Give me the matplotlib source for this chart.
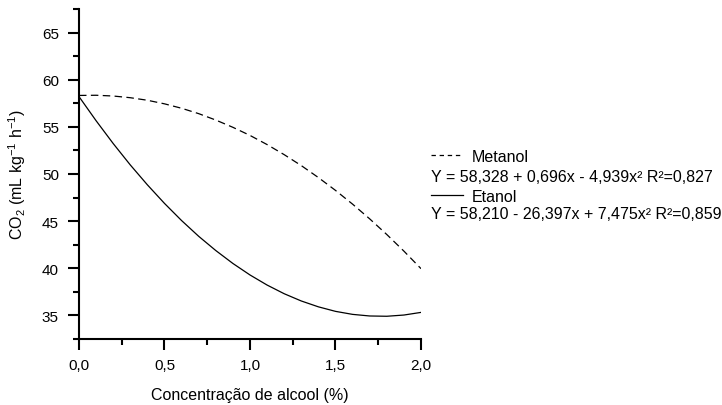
import matplotlib
matplotlib.use("Agg")
import matplotlib.pyplot as plt
from matplotlib.lines import Line2D
from matplotlib.ticker import FixedLocator, MultipleLocator, FixedFormatter

# Dados (curvas ajustadas)
conc = [0.0, 0.1, 0.2, 0.3, 0.4, 0.5, 0.6, 0.7, 0.8, 0.9, 1.0,
        1.1, 1.2, 1.3, 1.4, 1.5, 1.6, 1.7, 1.8, 1.9, 2.0]
metanol = [58.33, 58.35, 58.27, 58.09, 57.82, 57.44, 56.97, 56.40, 55.72, 54.95, 54.09,
           53.12, 52.05, 50.89, 49.62, 48.26, 46.80, 45.24, 43.58, 41.82, 39.96]
etanol = [58.21, 55.65, 53.23, 50.96, 48.85, 46.88, 45.06, 43.39, 41.88, 40.51, 39.29,
          38.22, 37.30, 36.53, 35.91, 35.43, 35.11, 34.94, 34.91, 35.04, 35.32]

xticks = [0.0, 0.5, 1.0, 1.5, 2.0]
xtick_labels = ["0,0", "0,5", "1,0", "1,5", "2,0"]
yticks = [35, 40, 45, 50, 55, 60, 65]

eq_metanol = "Y = 58,328 + 0,696x - 4,939x² R²=0,827"
eq_etanol = "Y = 58,210 - 26,397x + 7,475x² R²=0,859"

plt.rcParams["font.family"] = ["Liberation Sans", "DejaVu Sans"]
plt.rcParams["mathtext.fontset"] = "custom"
plt.rcParams["mathtext.rm"] = "Liberation Sans"
plt.rcParams["mathtext.it"] = "Liberation Sans:italic"

fig = plt.figure(figsize=(7.22, 4.06), dpi=100)
ax = fig.add_axes([0.1094, 0.1626, 0.4737, 0.8128])

ax.plot(conc, metanol, color="black", lw=0.9, linestyle=(0, (6, 3.5)))
ax.plot(conc, etanol, color="black", lw=0.9)

ax.set_xlim(0, 2)
ax.set_ylim(32.5, 67.5)
for s in ["top", "right"]:
    ax.spines[s].set_visible(False)
for s in ["left", "bottom"]:
    ax.spines[s].set_linewidth(1.5)

ax.xaxis.set_major_locator(FixedLocator(xticks))
ax.xaxis.set_major_formatter(FixedFormatter(xtick_labels))
ax.xaxis.set_minor_locator(MultipleLocator(0.25))
ax.yaxis.set_major_locator(FixedLocator(yticks))
ax.yaxis.set_minor_locator(MultipleLocator(2.5))
ax.tick_params(which="major", length=8, width=1.5, labelsize=11)
ax.tick_params(which="minor", length=4.5, width=1.5)
ax.tick_params(axis="x", which="major", pad=6)
ax.tick_params(axis="y", which="major", pad=6.5)

ax.set_xlabel("Concentração de alcool (%)", fontsize=11.5)
ax.set_ylabel(r"CO$_\mathregular{2}$ (mL kg$^\mathregular{-1}$ h$^\mathregular{-1}$)", fontsize=11.5)
ax.xaxis.set_label_coords(0.5, -0.145)
ax.yaxis.set_label_coords(-0.149, 0.5)

# legenda com equacoes
fig.add_artist(Line2D([0.597, 0.641], [1 - 156 / 406] * 2, color="black", lw=0.9,
                      linestyle=(0, (3.5, 3))))
fig.text(0.6537, 1 - 162.3 / 406, "Metanol", fontsize=11.5, va="baseline")
fig.text(0.597, 1 - 181.7 / 406, eq_metanol, fontsize=11.5, va="baseline")
fig.add_artist(Line2D([0.597, 0.641], [1 - 195.7 / 406] * 2, color="black", lw=0.9))
fig.text(0.6537, 1 - 201.7 / 406, "Etanol", fontsize=11.5, va="baseline")
fig.text(0.597, 1 - 219.3 / 406, eq_etanol, fontsize=11.5, va="baseline")

fig.savefig("out.png", dpi=100)
